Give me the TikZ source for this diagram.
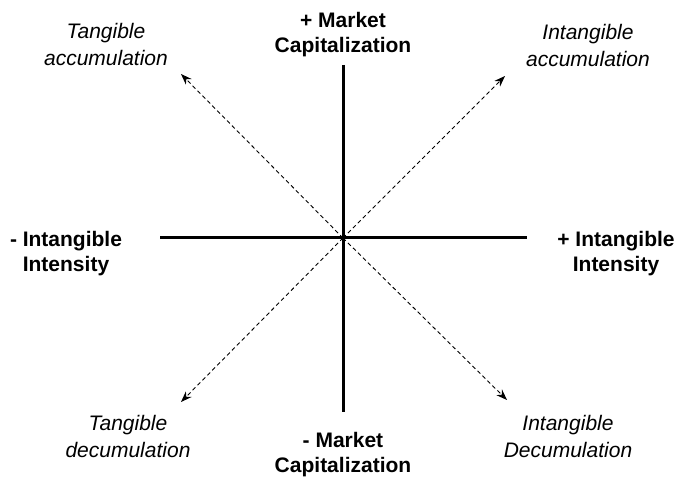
\documentclass[tikz,border=0pt]{standalone}
\usepackage{fontspec}
\setmainfont{Liberation Sans}
\usetikzlibrary{arrows.meta}
\begin{document}
\begin{tikzpicture}[x=1pt,y=-1pt,
  axis/.style={line width=3pt},
  diag/.style={line width=0.9pt,dash pattern=on 4pt off 3pt,-{Stealth[length=11pt,width=8pt]}},
  boldlbl/.style={font=\fontsize{21}{25}\selectfont\bfseries,align=center,inner sep=0pt,anchor=base},
  itlbl/.style={font=\fontsize{21}{27}\selectfont\itshape,align=center,inner sep=0pt,anchor=base}]
\useasboundingbox (0,0) rectangle (683,478);
\coordinate (c) at (343,238);
\coordinate (top) at (343,65);
\coordinate (bot) at (343,412);
\coordinate (left) at (160,238);
\coordinate (right) at (527,238);
\coordinate (tl) at (181,74);
\coordinate (tr) at (505,76);
\coordinate (bl) at (181,402);
\coordinate (br) at (507,400);
\draw[axis] (top) -- (bot);
\draw[axis] (left) -- (right);
\draw[diag] (c) -- (tl);
\draw[diag] (c) -- (tr);
\draw[diag] (c) -- (bl);
\draw[diag] (c) -- (br);
\node[boldlbl] (mcp) at (343,53) {+ Market\\Capitalization};
\node[boldlbl] (mcm) at (343,472) {- Market\\Capitalization};
\node[boldlbl] (iim) at (66,272) {- Intangible\\Intensity};
\node[boldlbl] (iip) at (616,272) {+ Intangible\\Intensity};
\node[itlbl] (ta) at (106,66) {Tangible\\accumulation};
\node[itlbl] (ia) at (588,67) {Intangible\\accumulation};
\node[itlbl] (td) at (128,457) {Tangible\\decumulation};
\node[itlbl] (id) at (568,457) {Intangible\\Decumulation};
\end{tikzpicture}
\end{document}
